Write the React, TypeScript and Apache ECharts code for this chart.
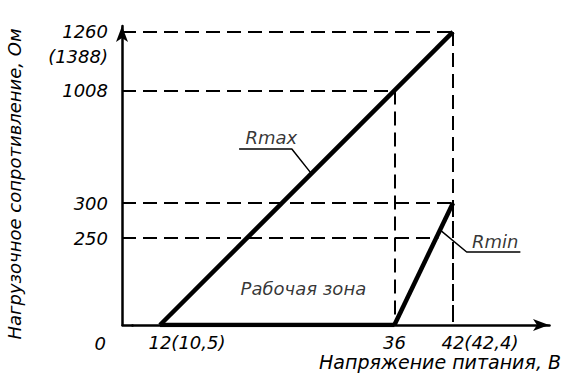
import React, { useEffect, useRef } from 'react';
import * as echarts from 'echarts';

// ---- data ----
const voltageTicks = [12, 36, 42];
const voltageAlt: Record<number, string> = { 12: '(10,5)', 42: '(42,4)' };
const rmaxTicks = [0, 1008, 1260];
const rmaxAlt: Record<number, string> = { 1260: '(1388)' };
const rminTicks = [250, 300];
const rmaxPoints = [[12, 0], [42, 1260]];
const rminPoints = [[36, 0], [42, 300]];
const zonePoints = [[12, 0], [36, 0]];
// guides: [x, y, draw vertical drop]
const rmaxGuides = [[42, 1260, 1], [36, 1008, 1]];
const rminGuides = [[42, 300, 1], [40.5, 250, 0]];

// ---- annotation anchors (data coordinates) ----
const rmaxLeader = [[20.1, 757], [25.5, 757], [27.5, 651]];
const rminLeader = [[40.7, 408], [43.4, 314], [48.9, 314]];
const rmaxText = [20.7, 808];
const rminText = [43.9, 357];
const zoneText = [20.2, 159];

const ink = '#000';
const font = { fontFamily: 'DejaVu Sans', fontStyle: 'italic' as const, fontSize: 18, color: ink };
const dashed = { type: [14, 7] as number[], width: 2, color: ink };

function xLabel(v: number) {
  const alt = voltageAlt[v];
  if (alt) return `{g| }{n|${v}}{n|${alt}}`;
  return `{n|${v}}`;
}

function yLabel(v: number) {
  if (v === 0) return '{z| }\n{z|0}';
  const alt = rmaxAlt[v];
  if (alt) return `{n| }\n{n|${v}}\n{n|${alt}}`;
  return `{n|${v}}`;
}

function guideLines(points: number[][]) {
  const out: any[] = [];
  points.forEach(([x, y, drop]) => {
    out.push([{ coord: [0, y] }, { coord: [x, y] }]);
    if (drop) out.push([{ coord: [x, y] }, { coord: [x, 0] }]);
  });
  return out;
}

function textSeries(name: string, pos: number[], text: string) {
  return {
    type: 'scatter',
    name,
    silent: true,
    symbolSize: 1,
    itemStyle: { color: 'transparent' },
    data: [pos],
    label: { show: true, position: 'right', distance: 0, formatter: text, ...font },
    z: 5,
  };
}

function leaderSeries(name: string, pts: number[][]) {
  return {
    type: 'line',
    name,
    silent: true,
    symbol: 'none',
    data: pts,
    lineStyle: { width: 1.5, color: ink },
    z: 4,
  };
}

const axisLineStyle = { color: '#000', width: 2.5 };

const option: any = {
  animation: false,
  backgroundColor: '#fff',
  grid: { left: 122, right: 13, top: 26, bottom: 55, outerBoundsMode: 'none' },
  xAxis: {
    type: 'value',
    min: 0,
    max: 51.83,
    breaks: [{ start: 1, end: 9.11, gap: 0 }],
    breakArea: { show: false },
    axisLine: { show: true, onZero: false, symbol: ['none', 'arrow'], symbolSize: [9, 16], lineStyle: axisLineStyle },
    axisTick: { show: false },
    splitLine: { show: false },
    axisLabel: {
      customValues: voltageTicks,
      margin: 8,
      ...font,
      formatter: xLabel,
      rich: { n: { ...font }, g: { width: 54 } },
    },
    name: 'Напряжение питания, В',
    nameLocation: 'end',
    nameGap: 12,
    nameTextStyle: { ...font, fontSize: 19, align: 'right', verticalAlign: 'top', padding: [27, 0, 0, 0] },
  },
  yAxis: [
    {
      type: 'value',
      min: 0,
      max: 1285.6,
      position: 'left',
      axisLine: { show: true, onZero: false, symbol: ['none', 'arrow'], symbolSize: [9, 16], lineStyle: axisLineStyle },
      axisTick: { show: false },
      splitLine: { show: false },
      axisLabel: {
        customValues: rmaxTicks,
        margin: 14,
        ...font,
        formatter: yLabel,
        rich: { n: { ...font, lineHeight: 25 }, z: { ...font, lineHeight: 36, padding: [0, 2, 0, 0] } },
      },
      name: 'Нагрузочное сопротивление, Ом',
      nameLocation: 'middle',
      nameGap: 99,
      nameRotate: 90,
      nameTextStyle: { ...font, padding: [0, 17, 0, 0] },
    },
    {
      type: 'value',
      min: 0,
      max: 552.9,
      position: 'left',
      breaks: [{ start: 20, end: 145.7, gap: 0 }],
      breakArea: { show: false },
      axisLine: { show: false },
      axisTick: { show: false },
      splitLine: { show: false },
      axisLabel: { customValues: rminTicks, margin: 14, ...font },
    },
  ],
  series: [
    {
      type: 'line',
      name: 'Rmax',
      symbol: 'none',
      data: rmaxPoints,
      lineStyle: { width: 4.5, color: '#000' },
      z: 3,
      markLine: { silent: true, symbol: 'none', label: { show: false }, lineStyle: dashed, data: guideLines(rmaxGuides) },
    },
    {
      type: 'line',
      name: 'Rmin',
      yAxisIndex: 1,
      symbol: 'none',
      data: rminPoints,
      lineStyle: { width: 4.5, color: '#000' },
      z: 3,
      markLine: { silent: true, symbol: 'none', label: { show: false }, lineStyle: dashed, data: guideLines(rminGuides) },
    },
    {
      type: 'line',
      name: 'zone',
      symbol: 'none',
      data: zonePoints,
      lineStyle: { width: 4.5, color: '#000' },
      z: 3,
    },
    leaderSeries('rmaxLeader', rmaxLeader),
    leaderSeries('rminLeader', rminLeader),
    textSeries('rmaxText', rmaxText, 'Rmax'),
    textSeries('rminText', rminText, 'Rmin'),
    textSeries('zoneText', zoneText, 'Рабочая зона'),
  ],
};

export default function App() {
  const ref = useRef<HTMLDivElement>(null);
  useEffect(() => {
    const chart = echarts.init(ref.current!, null, { renderer: 'svg' });
    chart.setOption(option);
    return () => chart.dispose();
  }, []);
  return (
    <div
      ref={ref}
      style={{ position: 'fixed', left: 0, top: 0, width: 562, height: 380, background: '#fff' }}
    />
  );
}
